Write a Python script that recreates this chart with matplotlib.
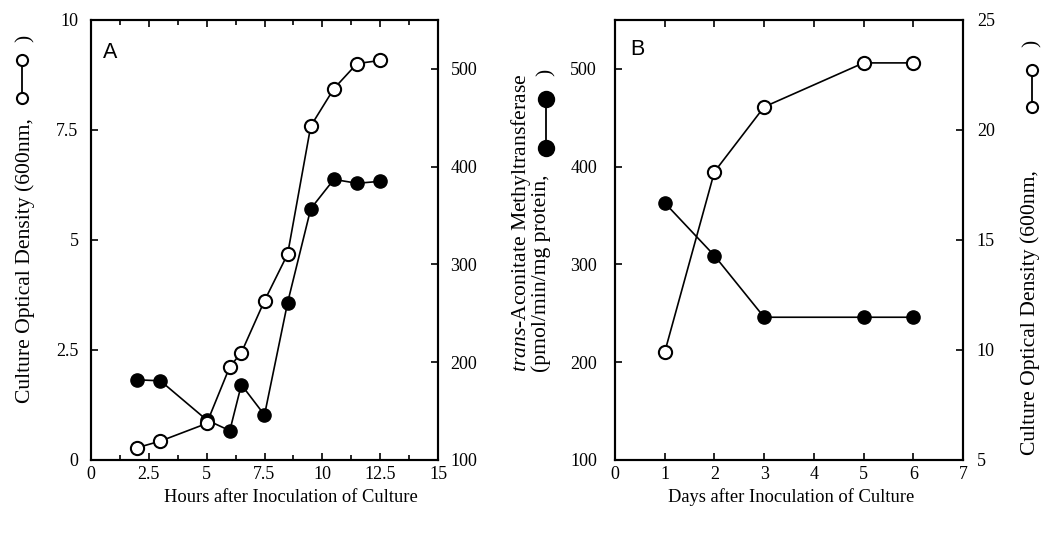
import matplotlib
matplotlib.use("Agg")
import matplotlib.pyplot as plt
from matplotlib.lines import Line2D

plt.rcParams['font.family'] = 'Liberation Serif'
plt.rcParams['mathtext.fontset'] = 'custom'
plt.rcParams['mathtext.rm'] = 'Liberation Serif'
plt.rcParams['mathtext.it'] = 'Liberation Serif:italic'

# panel A: hours after inoculation
hours = [2, 3, 5, 6, 6.5, 7.5, 8.5, 9.5, 10.5, 11.5, 12.5]
od_a = [0.28, 0.43, 0.83, 2.12, 2.44, 3.62, 4.68, 7.59, 8.44, 9.01, 9.08]
enz_a = [182, 181, 141, 130, 177, 146, 261, 357, 387, 383, 385]

# panel B: days after inoculation
days = [1, 2, 3, 5, 6]
od_b = [9.9, 18.1, 21.05, 23.05, 23.05]
enz_b = [363, 309, 246, 246, 246]

hour_ticks = [0, 2.5, 5, 7.5, 10, 12.5, 15]
hour_labels = ['0', '2.5', '5', '7.5', '10', '12.5', '15']
od_a_ticks = [0, 2.5, 5, 7.5, 10]
od_a_labels = ['0', '2.5', '5', '7.5', '10']
enz_ticks = [100, 200, 300, 400, 500]
day_ticks = [0, 1, 2, 3, 4, 5, 6, 7]
od_b_ticks = [5, 10, 15, 20, 25]

W, H = 1043, 538
fig = plt.figure(figsize=(W / 100, H / 100), dpi=100)


def fx(px):
    return px / W


def fy(py):
    return 1 - py / H


tick_fs = 13
lw_spine = 1.5


def style(ax):
    for s in ax.spines.values():
        s.set_linewidth(lw_spine)
    ax.tick_params(which='both', direction='in', width=1.2, labelsize=tick_fs)
    ax.tick_params(which='major', length=5)
    ax.tick_params(which='minor', length=3.5)


open_kw = dict(color='black', lw=1.2, marker='o', ms=9.5, mfc='white',
               mec='black', mew=1.5)
fill_kw = dict(color='black', lw=1.2, marker='o', ms=9.5, mfc='black',
               mec='black')

# ---- panel A ----
ax1 = fig.add_axes([fx(91), fy(460), fx(438) - fx(91), fy(20) - fy(460)])
ax2 = ax1.twinx()
ax1.set_zorder(ax2.get_zorder() + 1)
ax1.patch.set_visible(False)

ax2.plot(hours, enz_a, **fill_kw)
ax1.plot(hours, od_a, **open_kw)

ax1.set_xlim(0, 15)
ax1.set_ylim(0, 10)
ax2.set_ylim(100, 550)
ax1.set_xticks(hour_ticks)
ax1.set_xticklabels(hour_labels)
ax1.set_xticks([1.25 + 2.5 * i for i in range(6)], minor=True)
ax1.set_yticks(od_a_ticks)
ax1.set_yticklabels(od_a_labels)
ax2.set_yticks(enz_ticks)
for a in (ax1, ax2):
    style(a)
ax1.tick_params(axis='x', which='both', top=True, pad=4)
ax1.tick_params(axis='y', pad=9)
ax2.tick_params(axis='y', pad=9)
ax1.text(fx(103), fy(58), 'A', transform=fig.transFigure, fontsize=15.5,
         family='Liberation Sans', ha='left', va='baseline')

# ---- panel B ----
ax3 = fig.add_axes([fx(615), fy(460), fx(963) - fx(615), fy(20) - fy(460)])
ax4 = ax3.twinx()
ax4.set_zorder(ax3.get_zorder() + 1)

ax3.plot(days, enz_b, **fill_kw)
ax4.plot(days, od_b, **open_kw)

ax3.set_xlim(0, 7)
ax3.set_ylim(100, 550)
ax4.set_ylim(5, 25)
ax3.set_xticks(day_ticks)
ax3.set_yticks(enz_ticks)
ax4.set_yticks(od_b_ticks)
for a in (ax3, ax4):
    style(a)
ax3.tick_params(axis='x', top=True, pad=4)
ax3.tick_params(axis='y', pad=13)
ax4.tick_params(axis='y', pad=10)
ax3.text(fx(630), fy(55), 'B', transform=fig.transFigure, fontsize=15.5,
         family='Liberation Sans', ha='left', va='baseline')

# ---- axis labels ----
fig.text(fx(291), fy(497), 'Hours after Inoculation of Culture',
         fontsize=13.3, ha='center', va='center')
fig.text(fx(791), fy(497), 'Days after Inoculation of Culture',
         fontsize=13.3, ha='center', va='center')


def symbol(x, y0, y1, filled, size):
    fig.add_artist(Line2D([fx(x), fx(x)], [fy(y0), fy(y1)],
                          transform=fig.transFigure, color='black', lw=1.3,
                          marker='o', ms=size, mfc='black' if filled else 'white',
                          mec='black', mew=1.5))


ylab_fs = 15.6
# left label
fig.text(fx(25), fy(403), 'Culture Optical Density (600nm,', rotation=90,
         fontsize=ylab_fs, ha='center', va='bottom')
symbol(22, 98, 60, False, 8)
fig.text(fx(25), fy(38), ')', rotation=90, fontsize=ylab_fs,
         ha='center', va='center')

# middle label
fig.text(fx(521), fy(372), r'$\mathit{trans}$-Aconitate Methyltransferase',
         rotation=90, fontsize=ylab_fs, ha='center', va='bottom')
fig.text(fx(541), fy(372), '(pmol/min/mg protein,', rotation=90,
         fontsize=ylab_fs, ha='center', va='bottom')
symbol(546, 148, 99, True, 11)
fig.text(fx(546), fy(72), ')', rotation=90, fontsize=ylab_fs,
         ha='center', va='center')

# right label
fig.text(fx(1030), fy(455), 'Culture Optical Density (600nm,', rotation=90,
         fontsize=ylab_fs, ha='center', va='bottom')
symbol(1032, 107, 70, False, 8)
fig.text(fx(1032), fy(43), ')', rotation=90, fontsize=ylab_fs,
         ha='center', va='center')

fig.savefig('out.png', dpi=100)
